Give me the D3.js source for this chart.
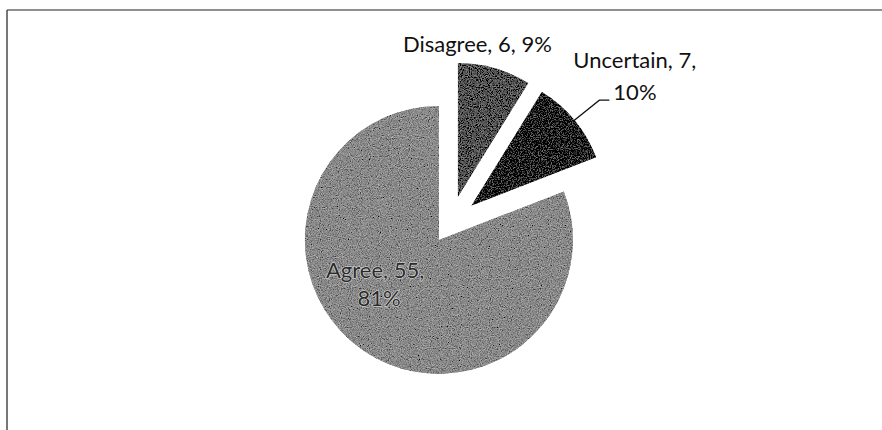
<!DOCTYPE html>
<html>
<head>
<meta charset="utf-8">
<script src="https://cdn.jsdelivr.net/npm/d3@7"></script>
<style>
  body { margin: 0; background: #fff; }
  text { font-family: Lato, "Open Sans", sans-serif; }
</style>
</head>
<body>
<div id="chart"></div>
<script>
// chart values
var categories = ["Disagree", "Uncertain", "Agree"];
var counts = [6, 7, 55];
var percents = ["9%", "10%", "81%"];
var colors = ["#545454", "#1c1c1c", "#8a8a8a"];

var width = 882, height = 430;
var cx = 450.5, cy = 223, radius = 134;
// how far each slice is pulled out from the centre
var explode = [27, 27, 20.5];

var svg = d3.select("#chart")
  .append("svg")
    .attr("width", width)
    .attr("height", height);

// a bit of grain, like the scanned original
var filt = svg.append("defs").append("filter")
  .attr("id", "grain")
  .attr("x", "-5%").attr("y", "-5%").attr("width", "110%").attr("height", "110%");
filt.append("feTurbulence")
  .attr("type", "fractalNoise").attr("baseFrequency", 0.9)
  .attr("numOctaves", 2).attr("seed", 4).attr("result", "noise");
filt.append("feColorMatrix")
  .attr("in", "noise").attr("type", "matrix")
  .attr("values", "0.33 0.33 0.33 0 0 0.33 0.33 0.33 0 0 0.33 0.33 0.33 0 0 0 0 0 0 1")
  .attr("result", "gray");
filt.append("feComposite")
  .attr("in", "SourceGraphic").attr("in2", "gray").attr("operator", "arithmetic")
  .attr("k1", 0).attr("k2", 1).attr("k3", 1.1).attr("k4", -0.55)
  .attr("result", "mix");
filt.append("feComposite")
  .attr("in", "mix").attr("in2", "SourceAlpha").attr("operator", "in");

// scanned frame: only top and left edges show
svg.append("line")
  .attr("x1", 7).attr("y1", 10).attr("x2", width).attr("y2", 10)
  .attr("stroke", "#6a6a6a").attr("stroke-width", 1.5);
svg.append("line")
  .attr("x1", 7).attr("y1", 10).attr("x2", 7).attr("y2", height)
  .attr("stroke", "#4a4a4a").attr("stroke-width", 1.5);

var data = categories.map(function(c, i) {
  return {name: c, value: counts[i], pct: percents[i], color: colors[i], ex: explode[i]};
});

var pie = d3.pie()
  .sort(null)
  .value(function(d) { return d.value; });

var arc = d3.arc()
  .innerRadius(0)
  .outerRadius(radius);

var arcs = pie(data);

var g = svg.append("g")
  .attr("transform", "translate(" + cx + "," + cy + ")");

function shift(d) {
  var mid = (d.startAngle + d.endAngle) / 2;
  return [Math.sin(mid) * d.data.ex, -Math.cos(mid) * d.data.ex];
}

g.append("g")
  .attr("filter", "url(#grain)")
  .selectAll("path.slice")
  .data(arcs)
  .enter()
  .append("path")
    .attr("class", "slice")
    .attr("transform", function(d) { var s = shift(d); return "translate(" + s[0] + "," + s[1] + ")"; })
    .attr("d", arc)
    .attr("fill", function(d) { return d.data.color; });

// Disagree label, above its slice
var dis = arcs[0], ds = shift(dis);
g.append("text")
  .attr("x", ds[0] - 55)
  .attr("y", -radius + ds[1] - 11)
  .attr("font-size", 22)
  .attr("fill", "#111")
  .text(dis.data.name + ", " + dis.data.value + ", " + dis.data.pct);

// Uncertain label with leader line
var unc = arcs[1], us = shift(unc);
var um = (unc.startAngle + unc.endAngle) / 2;
var edge = [us[0] + Math.sin(um) * radius, us[1] - Math.cos(um) * radius];
g.append("path")
  .attr("d", "M" + edge[0] + "," + edge[1] + "L" + (edge[0] + 25) + "," + (edge[1] - 20) + "h10")
  .attr("fill", "none")
  .attr("stroke", "#111")
  .attr("stroke-width", 1.3);
var ut = g.append("text")
  .attr("font-size", 22)
  .attr("fill", "#111");
ut.append("tspan")
  .attr("x", edge[0] - 1)
  .attr("y", edge[1] - 52)
  .text(unc.data.name + ", " + unc.data.value + ",");
ut.append("tspan")
  .attr("x", edge[0] + 39)
  .attr("y", edge[1] - 20)
  .text(unc.data.pct);

// Agree label inside its slice
var agr = arcs[2], as = shift(agr);
var am = (agr.startAngle + agr.endAngle) / 2;
var ap = [as[0] + Math.sin(am) * radius * 0.5, as[1] - Math.cos(am) * radius * 0.5];
var at = g.append("text")
  .attr("text-anchor", "middle")
  .attr("font-size", 22)
  .attr("fill", "#2a2a2a")
  .attr("stroke", "#e0e0e0")
  .attr("stroke-width", 1.2)
  .attr("paint-order", "stroke");
at.append("tspan")
  .attr("x", ap[0] - 26)
  .attr("y", ap[1] - 17)
  .text(agr.data.name + ", " + agr.data.value + ",");
at.append("tspan")
  .attr("x", ap[0] - 22)
  .attr("y", ap[1] + 11)
  .text(agr.data.pct);
</script>
</body>
</html>
